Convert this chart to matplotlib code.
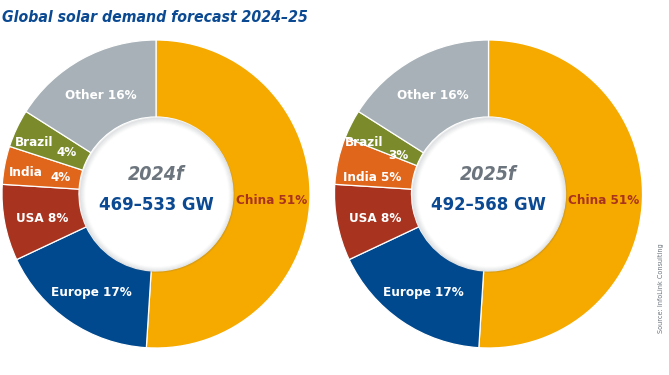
import numpy as np
import matplotlib
matplotlib.use("Agg")
import matplotlib.pyplot as plt
from matplotlib.patches import Circle
from matplotlib import font_manager

# data
regions = ["China", "Europe", "USA", "India", "Brazil", "Other"]
share_2024 = [51, 17, 8, 4, 4, 16]
share_2025 = [51, 17, 8, 5, 3, 16]
years = ["2024f", "2025f"]
ranges = ["469\u2013533 GW", "492\u2013568 GW"]

colors = ["#F6AA00", "#00498F", "#A8331F", "#E0661B", "#7B8B2B", "#A7B1B7"]
label_colors = ["#A8331F", "white", "white", "white", "white", "white"]

# labels split in two (name / value), offsets in px from the ring middle:
# (name_dx, name_dy, value_dx, value_dy), dy upwards
staggered = {
    (0, "Brazil"): (1.5, 2, 5.5, -8),
    (0, "India"): (0, 0, 7.5, -5),
    (1, "Brazil"): (-2, -1, 3, -14),
}
# nudges for single-line labels
nudges = {(1, "India"): (-4, -6)}

BLUE = "#0B4A92"

# a narrow face looks closest to the original; use condensed DejaVu if present
probe = font_manager.FontProperties(family="DejaVu Sans", stretch="condensed", weight="bold")
path = font_manager.findfont(probe, fallback_to_default=True)
if "Condensed" in path:
    FONT = dict(family="DejaVu Sans", stretch="condensed")
    scale = 1.0
else:
    FONT = dict(family="Liberation Sans")
    scale = 0.9

W, H = 669, 375
fig = plt.figure(figsize=(W / 100, H / 100), dpi=100)
ax = fig.add_axes([0, 0, 1, 1])

R_OUT = 154
R_IN = 77
centers = [(156, H - 194), (488.5, H - 194)]


def draw_donut(k, values):
    cx, cy = centers[k]
    wedges, _ = ax.pie(values, colors=colors, startangle=90, counterclock=False,
                       radius=R_OUT, center=(cx, cy),
                       wedgeprops=dict(width=R_OUT - R_IN, edgecolor="white", linewidth=0.9))
    # soft inner shadow on the hole
    for i, a in enumerate(np.linspace(0.12, 0.01, 6)):
        ax.add_patch(Circle((cx + 1, cy - 1), R_IN - i, facecolor="none",
                            edgecolor="#55606A", linewidth=1.2, alpha=a, zorder=3))
    ax.add_patch(Circle((cx + 1.5, cy - 1.5), R_IN - 6, facecolor="white",
                        edgecolor="none", zorder=3))

    r_mid = (R_OUT + R_IN) / 2
    fs = 9.6 * scale
    for w, name, val, tc in zip(wedges, regions, values, label_colors):
        ang = np.deg2rad((w.theta1 + w.theta2) / 2)
        x = cx + r_mid * np.cos(ang)
        y = cy + r_mid * np.sin(ang) - 3
        if (k, name) in staggered:
            ndx, ndy, vdx, vdy = staggered[(k, name)]
            ax.text(x + ndx, y + 3 + ndy, name, ha="right", va="center", color=tc,
                    fontsize=fs, fontweight="bold", zorder=4, **FONT)
            ax.text(x + vdx, y + 3 + vdy, f"{val}%", ha="left", va="center", color=tc,
                    fontsize=fs, fontweight="bold", zorder=4, **FONT)
        else:
            dx, dy = nudges.get((k, name), (0, 0))
            ax.text(x + dx, y + dy, f"{name} {val}%", ha="center", va="center", color=tc,
                    fontsize=fs, fontweight="bold", zorder=4, **FONT)

    ax.text(cx, cy + 19, years[k], ha="center", va="center", color="#6C757D",
            fontsize=14 * scale, fontweight="bold", style="italic", zorder=5, **FONT)
    ax.text(cx, cy - 11, ranges[k], ha="center", va="center", color=BLUE,
            fontsize=13.2 * scale, fontweight="bold", zorder=5, **FONT)


draw_donut(0, share_2024)
draw_donut(1, share_2025)

ax.set_xlim(0, W)
ax.set_ylim(0, H)
ax.set_aspect("equal")
ax.axis("off")

fig.text(2 / W, 1 - 18 / H, "Global solar demand forecast 2024\u201325", ha="left",
         va="center", color=BLUE, fontsize=11.3 * scale, fontweight="bold",
         style="italic", **FONT)
fig.text(661 / W, 1 - 288 / H, "Source: InfoLink Consulting", rotation=90,
         ha="center", va="center", color="#6C757D", fontsize=5.2, **FONT)

fig.savefig("out.png", dpi=100)
